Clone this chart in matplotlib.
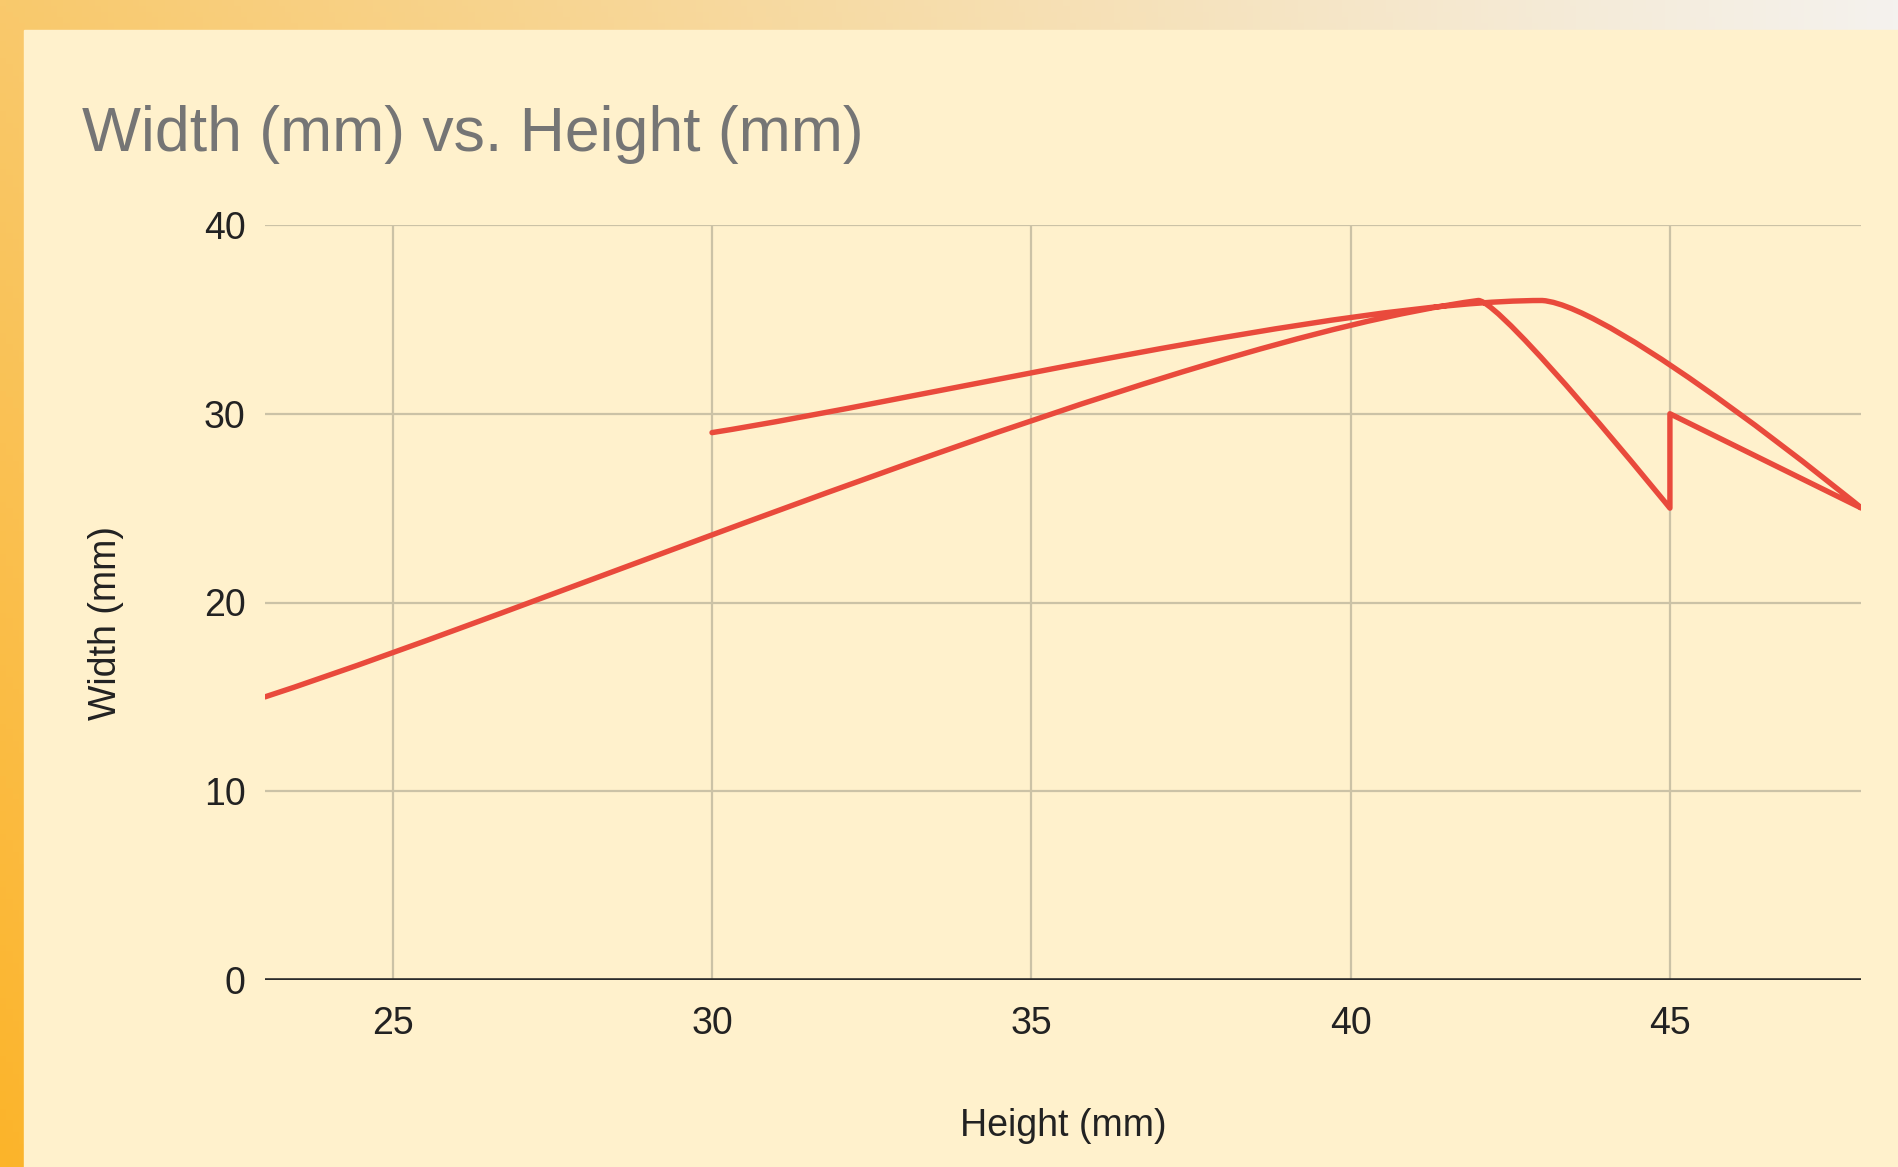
import numpy as np
import matplotlib
matplotlib.use('Agg')
import matplotlib.pyplot as plt
from matplotlib.path import Path
from matplotlib.patches import PathPatch, Rectangle

# ---- data (in row order) ----
heights = [23, 42, 45, 45, 48, 43, 30]
widths = [15, 36, 25, 30, 25, 36, 29]
x_ticks = [25, 30, 35, 40, 45]
y_ticks = [0, 10, 20, 30, 40]
title = "Width (mm) vs. Height (mm)"
x_label = "Height (mm)"
y_label = "Width (mm)"

plt.rcParams['font.family'] = ['Liberation Sans', 'DejaVu Sans']

W, H = 1899, 1167
DPI = 100
CREAM = '#FFF1CC'
fig = plt.figure(figsize=(W / DPI, H / DPI), dpi=DPI)
fig.patch.set_facecolor(CREAM)

# background gradient frame
bg = fig.add_axes([0, 0, 1, 1], zorder=-10)
bg.set_axis_off()
nx, ny = 300, 200
tx = np.linspace(0, 1, nx)[None, :, None]
ty = np.linspace(0, 1, ny)[:, None, None]
c_tl = np.array([249, 201, 108]) / 255
c_tr = np.array([244, 242, 238]) / 255
c_bl = np.array([252, 180, 42]) / 255
img = c_tl * (1 - tx) + c_tr * tx + (c_bl - c_tl) * ty * (1 - tx)
img = np.clip(img, 0, 1)
bg.imshow(img, extent=[0, 1, 0, 1], aspect='auto', origin='upper')
bg.add_patch(Rectangle((24 / W, 0), 1, 1 - 30 / H, color=CREAM))
bg.set_xlim(0, 1)
bg.set_ylim(0, 1)

# main axes
ax = fig.add_axes([265 / W, 1 - 980 / H, 1596.5 / W, 755 / H])
ax.set_facecolor('none')
ax.set_axisbelow(True)
ax.set_xlim(23, 48)
ax.set_ylim(0, 40)
ax.set_xticks(x_ticks)
ax.set_yticks(y_ticks)
ax.grid(True, color='#CBC2A6', lw=1.6)
ax.axhline(0, color='#2B2B2B', lw=2.6, zorder=3)
for s in ax.spines.values():
    s.set_visible(False)
ax.tick_params(axis='both', length=0, labelsize=27, labelcolor='#222222')
ax.tick_params(axis='y', pad=14)
ax.tick_params(axis='x', pad=19)

# smoothed line: Bezier through the data points (display space);
# points where the x direction stalls or reverses are drawn as corners
P = ax.transData.transform(np.column_stack([heights, widths]).astype(float))
n = len(P)
T = np.zeros_like(P)
for i in range(n):
    if i == 0:
        d = P[1] - P[0]
    elif i == n - 1:
        d = P[-1] - P[-2]
    else:
        if (heights[i] - heights[i - 1]) * (heights[i + 1] - heights[i]) <= 0:
            d = np.zeros(2)
        else:
            d = P[i + 1] - P[i - 1]
    nd = np.linalg.norm(d)
    T[i] = d / nd if nd > 0 else d
ARM = 0.25
verts = [P[0]]
codes = [Path.MOVETO]
for i in range(n - 1):
    a, b = P[i], P[i + 1]
    L = np.linalg.norm(b - a)
    u = (b - a) / L
    k1 = max(np.dot(T[i], u), 0.0) ** 2
    k2 = max(np.dot(T[i + 1], u), 0.0) ** 2
    c1 = a + ARM * L * k1 * T[i]
    c2 = b - ARM * L * k2 * T[i + 1]
    lo = np.minimum(a, b)
    hi = np.maximum(a, b)
    c1 = np.clip(c1, lo, hi)
    c2 = np.clip(c2, lo, hi)
    verts += [c1, c2, b]
    codes += [Path.CURVE4] * 3
verts = ax.transData.inverted().transform(np.array(verts))
ax.add_patch(PathPatch(Path(verts, codes), fill=False, edgecolor='#E94A3C',
                       lw=3.9, capstyle='round', joinstyle='round', zorder=4))

# texts
fig.text(82 / W, 1 - 151 / H, title, fontsize=45, color='#757575',
         ha='left', va='baseline')
fig.text(1063 / W, 1 - 1125.5 / H, x_label, fontsize=27, color='#222222',
         ha='center', va='center')
fig.text(106 / W, 1 - 623 / H, y_label, fontsize=27, color='#222222',
         ha='center', va='center', rotation=90)

fig.savefig('out.png', dpi=DPI, facecolor=fig.get_facecolor())
